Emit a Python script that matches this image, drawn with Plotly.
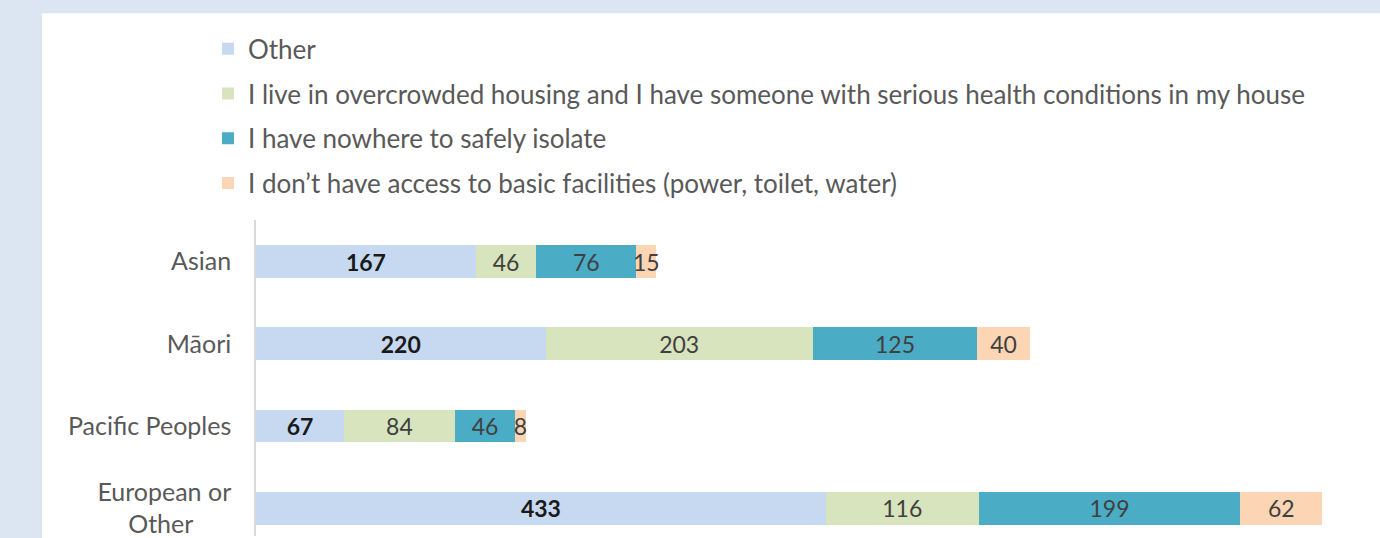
import plotly.graph_objects as go

categories = ["European or<br>Other\u00a0\u00a0\u00a0\u00a0\u00a0\u00a0", "Pacific Peoples", "Māori", "Asian"]
series_names = [
    "Other",
    "I live in overcrowded housing and I have someone with serious health conditions in my house",
    "I have nowhere to safely isolate",
    "I don’t have access to basic facilities (power, toilet, water)",
]
other = [433, 67, 220, 167]
overcrowded = [116, 84, 203, 46]
nowhere = [199, 46, 125, 76]
no_facilities = [62, 8, 40, 15]

values = [other, overcrowded, nowhere, no_facilities]
colors = ["#c6d9f0", "#d7e4bd", "#4bacc6", "#fcd5b5"]
text_colors = ["#1a1a1a", "#404040", "#404040", "#404040"]
FONT = "Lato, Calibri, Carlito, sans-serif"

W, H = 1380, 538
L, T = 256, 220
PW, PH = W - L, H - T


def px_x(p):
    return (p - L) / PW


def px_y(p):
    return (H - p) / PH


fig = go.Figure()
for i, (name, vals, col) in enumerate(zip(series_names, values, colors)):
    lbl = [f"<b>{v}</b>" if i == 0 else str(v) for v in vals]
    fig.add_trace(go.Bar(
        y=categories, x=vals, name=name, orientation="h",
        marker=dict(color=col, line=dict(width=0)),
        text=lbl, textposition="inside", insidetextanchor="middle",
        textangle=0, constraintext="none",
        textfont=dict(family=FONT, size=23, color=text_colors[i]),
        legendgroup=f"g{i}", width=0.40,
    ))

fig.update_layout(
    width=W, height=H,
    barmode="stack",
    paper_bgcolor="#dce6f2",
    plot_bgcolor="white",
    margin=dict(l=L, r=0, t=T, b=0),
    font=dict(family=FONT, size=25, color="#595959"),
    showlegend=True,
    legend=dict(
        x=px_x(208), y=px_y(24), xanchor="left", yanchor="top",
        traceorder="grouped", tracegroupgap=8,
        font=dict(family=FONT, size=26, color="#595959"),
        bgcolor="rgba(0,0,0,0)", itemwidth=30,
    ),
    shapes=[dict(type="rect", xref="paper", yref="paper",
                 x0=px_x(42), x1=1, y0=-0.01, y1=px_y(12),
                 fillcolor="white", line=dict(width=0), layer="below")],
    xaxis=dict(range=[0, 854], visible=False, fixedrange=True),
    yaxis=dict(
        range=[-0.339, 3.508], showline=True, linecolor="#d9d9d9", linewidth=1.5,
        showgrid=False, zeroline=False, ticks="", ticklabelstandoff=18,
        tickfont=dict(family=FONT, size=25, color="#595959"),
    ),
)

fig.write_html("out.html", config={"displayModeBar": False},
               post_script="document.body.style.margin='0';document.body.style.overflow='hidden';")
